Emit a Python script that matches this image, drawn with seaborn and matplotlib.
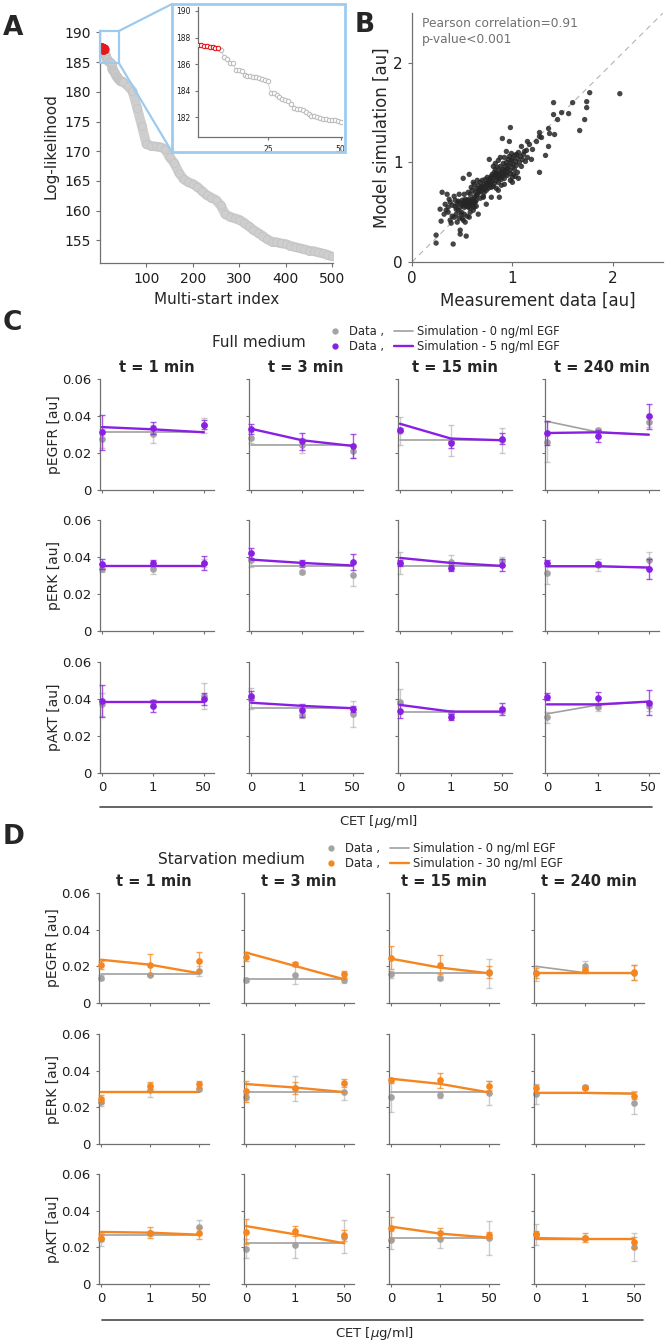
import matplotlib
matplotlib.use('Agg')
import matplotlib.pyplot as plt
import matplotlib.colors as mcolors
from matplotlib.lines import Line2D
from matplotlib.patches import Rectangle, ConnectionPatch
import numpy as np
import seaborn as sns

# ---------------- panel A: sorted multi-start log-likelihoods ----------------
a_best = [187.43, 187.41, 187.38, 187.36, 187.32, 187.28, 187.24, 187.20]
a_next = [187.05, 186.50, 186.35, 186.10, 186.08, 185.55, 185.55, 185.50, 185.20, 185.12,
          185.10, 185.05, 185.00, 184.97, 184.90, 184.80, 184.70, 183.80, 183.80, 183.70,
          183.50, 183.40, 183.30, 183.20, 183.00, 182.70, 182.60, 182.58, 182.50, 182.35,
          182.20, 182.10, 182.05, 181.98, 181.90, 181.85, 181.84, 181.80, 181.78, 181.75,
          181.70, 181.62]
# runs 60, 70, ..., 500
a_tail = [181.0, 180.1, 177.3, 174.3, 171.2, 170.9, 170.8, 170.7, 170.4, 169.0,
          168.0, 166.4, 165.3, 164.8, 164.5, 164.0, 163.3, 162.6, 162.2, 161.8,
          160.9, 159.4, 159.0, 158.7, 158.5, 158.0, 157.4, 156.8, 156.3, 155.8,
          155.2, 154.8, 154.7, 154.5, 154.4, 154.1, 153.9, 153.7, 153.5, 153.3,
          153.2, 153.0, 152.8, 152.6, 152.3]

# ---------------- panel B: measurement vs simulation ----------------
b_meas = [0.24, 0.24, 0.28, 0.29, 0.30, 0.35, 0.34, 0.38, 0.39, 0.41,
          0.43, 0.44, 0.46, 0.48, 0.48, 0.49, 0.51, 0.52, 0.54, 0.32,
          0.36, 0.40, 0.45, 0.50, 0.53, 0.57, 0.33, 0.37, 0.42, 0.47,
          0.51, 0.57, 0.59, 0.61, 0.62, 0.64, 0.66, 0.69, 0.71, 0.74,
          0.77, 0.79, 0.81, 0.84, 0.87, 0.90, 0.92, 0.94, 0.98, 0.97,
          1.00, 1.01, 1.04, 1.09, 1.12, 1.15, 1.17, 1.19, 1.20, 1.24,
          1.27, 1.27, 1.27, 1.29, 1.33, 1.36, 1.36, 1.37, 1.41, 1.41,
          1.42, 1.45, 1.49, 1.56, 1.60, 1.67, 1.72, 1.74, 1.74, 1.77,
          2.07,
          0.45, 0.47, 0.48, 0.50, 0.50, 0.51, 0.52, 0.52, 0.53, 0.53,
          0.54, 0.54, 0.55, 0.55, 0.56, 0.56, 0.57, 0.57, 0.58, 0.58,
          0.59, 0.60, 0.60, 0.61, 0.62, 0.62, 0.63, 0.64, 0.46, 0.49,
          0.43, 0.44, 0.40, 0.38, 0.36, 0.42, 0.47, 0.52, 0.55, 0.58,
          0.61,
          0.63, 0.64, 0.65, 0.66, 0.66, 0.67, 0.68, 0.68, 0.69, 0.70,
          0.70, 0.71, 0.72, 0.72, 0.73, 0.73, 0.74, 0.74, 0.75, 0.75,
          0.76, 0.76, 0.77, 0.77, 0.78, 0.78, 0.79, 0.79, 0.60, 0.62,
          0.65, 0.68, 0.71, 0.58, 0.56, 0.64,
          0.80, 0.80, 0.81, 0.82, 0.82, 0.83, 0.83, 0.84, 0.84, 0.85,
          0.85, 0.86, 0.86, 0.87, 0.87, 0.88, 0.88, 0.89, 0.89, 0.90,
          0.90, 0.91, 0.91, 0.92, 0.92, 0.93, 0.93, 0.94, 0.94, 0.95,
          0.95, 0.81, 0.84, 0.86, 0.89, 0.92, 0.83, 0.86, 0.88,
          0.96, 0.96, 0.97, 0.97, 0.98, 0.98, 0.99, 0.99, 1.00, 1.00,
          1.01, 1.02, 1.02, 1.03, 1.04, 1.05, 1.05, 1.06, 1.07, 1.08,
          1.09, 1.10, 1.11, 1.13, 1.14, 1.15, 1.03, 1.06, 0.98, 1.00]
b_sim = [0.27, 0.19, 0.53, 0.41, 0.70, 0.68, 0.52, 0.42, 0.39, 0.18,
         0.56, 0.48, 0.61, 0.32, 0.28, 0.48, 0.42, 0.68, 0.26, 0.48,
         0.50, 0.46, 0.40, 0.44, 0.40, 0.45, 0.58, 0.63, 0.66, 0.68,
         0.84, 0.88, 0.75, 0.80, 0.61, 0.56, 0.48, 0.75, 0.65, 0.58,
         1.03, 0.65, 0.96, 0.88, 0.65, 1.24, 1.05, 1.11, 1.35, 1.21,
         0.80, 0.88, 1.08, 1.16, 1.11, 1.21, 1.18, 1.03, 1.13, 1.21,
         1.30, 1.26, 0.90, 1.25, 1.07, 1.34, 1.16, 1.29, 1.60, 1.48,
         1.28, 1.43, 1.50, 1.49, 1.60, 1.32, 1.43, 1.61, 1.55, 1.70,
         1.69,
         0.58, 0.60, 0.55, 0.57, 0.62, 0.59, 0.55, 0.61, 0.58, 0.63,
         0.56, 0.60, 0.58, 0.62, 0.55, 0.60, 0.57, 0.63, 0.59, 0.54,
         0.61, 0.57, 0.63, 0.59, 0.55, 0.65, 0.60, 0.62, 0.52, 0.50,
         0.62, 0.53, 0.57, 0.60, 0.55, 0.45, 0.44, 0.48, 0.46, 0.50,
         0.52,
         0.70, 0.74, 0.68, 0.72, 0.77, 0.70, 0.74, 0.80, 0.71, 0.76,
         0.82, 0.73, 0.78, 0.70, 0.75, 0.83, 0.79, 0.72, 0.77, 0.85,
         0.80, 0.74, 0.82, 0.77, 0.84, 0.79, 0.86, 0.75, 0.72, 0.78,
         0.82, 0.64, 0.66, 0.68, 0.70, 0.66,
         0.81, 0.88, 0.84, 0.90, 0.79, 0.86, 0.93, 0.82, 0.89, 0.85,
         0.95, 0.88, 0.80, 0.91, 0.84, 0.87, 0.96, 0.90, 0.83, 0.93,
         0.86, 0.99, 0.89, 0.92, 0.84, 0.96, 0.88, 1.00, 0.91, 0.94,
         0.87, 0.76, 0.74, 0.72, 0.77, 0.78, 0.99, 1.02, 1.05,
         0.97, 1.03, 0.92, 1.06, 0.99, 0.89, 1.02, 1.09, 0.95, 1.04,
         0.98, 1.07, 0.93, 1.01, 0.97, 1.04, 0.90, 1.10, 1.00, 1.06,
         0.96, 1.03, 1.08, 1.01, 1.12, 1.05, 0.86, 0.84, 0.82, 0.85]

# ---------------- panels C / D: dose responses ----------------
readouts = ['pEGFR [au]', 'pERK [au]', 'pAKT [au]']
times = ['t = 1 min', 't = 3 min', 't = 15 min', 't = 240 min']
doses = ['0', '1', '50']

# [readout][time][dose]
full_mean0 = [[[0.0278, 0.0303, 0.0350], [0.0283, 0.0242, 0.0210], [0.0320, 0.0266, 0.0269], [0.0260, 0.0322, 0.0367]],
              [[0.0334, 0.0334, 0.0368], [0.0386, 0.0320, 0.0305], [0.0368, 0.0374, 0.0377], [0.0311, 0.0356, 0.0383]],
              [[0.0371, 0.0386, 0.0418], [0.0404, 0.0314, 0.0320], [0.0386, 0.0323, 0.0336], [0.0300, 0.0355, 0.0363]]]
full_err0 = [[[0.0050, 0.0049, 0.0040], [0.0030, 0.0040, 0.0036], [0.0075, 0.0083, 0.0067], [0.0110, 0.0013, 0.0027]],
             [[0.0013, 0.0025, 0.0020], [0.0040, 0.0010, 0.0061], [0.0058, 0.0036, 0.0024], [0.0058, 0.0032, 0.0042]],
             [[0.0063, 0.0010, 0.0070], [0.0058, 0.0016, 0.0071], [0.0069, 0.0015, 0.0013], [0.0031, 0.0022, 0.0027]]]
full_mean5 = [[[0.0312, 0.0335, 0.0353], [0.0331, 0.0263, 0.0238], [0.0326, 0.0254, 0.0278], [0.0308, 0.0292, 0.0398]],
              [[0.0361, 0.0368, 0.0368], [0.0422, 0.0365, 0.0374], [0.0368, 0.0341, 0.0356], [0.0368, 0.0361, 0.0334]],
              [[0.0389, 0.0363, 0.0400], [0.0418, 0.0338, 0.0346], [0.0336, 0.0302, 0.0346], [0.0413, 0.0404, 0.0380]]]
full_err5 = [[[0.0094, 0.0034, 0.0025], [0.0027, 0.0045, 0.0067], [0.0009, 0.0027, 0.0031], [0.0065, 0.0034, 0.0067]],
             [[0.0026, 0.0017, 0.0039], [0.0028, 0.0018, 0.0042], [0.0016, 0.0016, 0.0032], [0.0016, 0.0012, 0.0055]],
             [[0.0087, 0.0033, 0.0033], [0.0023, 0.0033, 0.0014], [0.0038, 0.0015, 0.0031], [0.0018, 0.0036, 0.0069]]]
full_sim0 = [[[0.0312, 0.0312, 0.0312], [0.0242, 0.0242, 0.0242], [0.0269, 0.0269, 0.0269], [0.0371, 0.0313, 0.0299]],
             [[0.0354, 0.0354, 0.0354], [0.0352, 0.0352, 0.0352], [0.0350, 0.0350, 0.0350], [0.0350, 0.0350, 0.0343]],
             [[0.0382, 0.0382, 0.0382], [0.0350, 0.0350, 0.0350], [0.0332, 0.0332, 0.0332], [0.0320, 0.0368, 0.0386]]]
full_sim5 = [[[0.0340, 0.0328, 0.0312], [0.0331, 0.0269, 0.0238], [0.0358, 0.0278, 0.0269], [0.0308, 0.0312, 0.0299]],
             [[0.0354, 0.0354, 0.0354], [0.0386, 0.0368, 0.0354], [0.0395, 0.0368, 0.0352], [0.0350, 0.0350, 0.0343]],
             [[0.0382, 0.0382, 0.0382], [0.0380, 0.0363, 0.0350], [0.0368, 0.0332, 0.0332], [0.0371, 0.0371, 0.0386]]]

starv_mean0 = [[[0.0138, 0.0155, 0.0175], [0.0125, 0.0151, 0.0125], [0.0156, 0.0136, 0.0162], [0.0162, 0.0202, 0.0165]],
               [[0.0231, 0.0295, 0.0301], [0.0257, 0.0303, 0.0281], [0.0259, 0.0266, 0.0277], [0.0273, 0.0312, 0.0226]],
               [[0.0244, 0.0276, 0.0311], [0.0193, 0.0211, 0.0258], [0.0240, 0.0244, 0.0253], [0.0271, 0.0249, 0.0202]]]
starv_err0 = [[[0.0014, 0.0010, 0.0027], [0.0011, 0.0050, 0.0015], [0.0018, 0.0011, 0.0078], [0.0041, 0.0027, 0.0040]],
              [[0.0023, 0.0039, 0.0011], [0.0018, 0.0067, 0.0043], [0.0085, 0.0015, 0.0066], [0.0055, 0.0009, 0.0061]],
              [[0.0034, 0.0014, 0.0038], [0.0053, 0.0068, 0.0091], [0.0047, 0.0045, 0.0093], [0.0057, 0.0011, 0.0078]]]
starv_mean30 = [[[0.0207, 0.0209, 0.0227], [0.0253, 0.0213, 0.0156], [0.0247, 0.0209, 0.0169], [0.0162, 0.0178, 0.0169]],
                [[0.0244, 0.0314, 0.0325], [0.0288, 0.0306, 0.0332], [0.0347, 0.0347, 0.0317], [0.0303, 0.0308, 0.0264]],
                [[0.0253, 0.0280, 0.0280], [0.0285, 0.0289, 0.0265], [0.0307, 0.0280, 0.0265], [0.0275, 0.0253, 0.0229]]]
starv_err30 = [[[0.0023, 0.0057, 0.0049], [0.0023, 0.0011, 0.0018], [0.0064, 0.0052, 0.0032], [0.0027, 0.0014, 0.0041]],
               [[0.0023, 0.0023, 0.0018], [0.0057, 0.0032, 0.0020], [0.0014, 0.0042, 0.0025], [0.0021, 0.0009, 0.0017]],
               [[0.0018, 0.0030, 0.0032], [0.0068, 0.0029, 0.0029], [0.0059, 0.0027, 0.0016], [0.0013, 0.0023, 0.0030]]]
starv_sim0 = [[[0.0160, 0.0160, 0.0160], [0.0129, 0.0129, 0.0129], [0.0162, 0.0162, 0.0162], [0.0200, 0.0165, 0.0162]],
              [[0.0283, 0.0283, 0.0283], [0.0281, 0.0281, 0.0281], [0.0281, 0.0281, 0.0281], [0.0277, 0.0277, 0.0275]],
              [[0.0269, 0.0269, 0.0269], [0.0222, 0.0222, 0.0222], [0.0253, 0.0253, 0.0253], [0.0253, 0.0247, 0.0244]]]
starv_sim30 = [[[0.0236, 0.0209, 0.0162], [0.0275, 0.0202, 0.0129], [0.0242, 0.0193, 0.0162], [0.0162, 0.0162, 0.0162]],
               [[0.0283, 0.0283, 0.0283], [0.0327, 0.0308, 0.0283], [0.0356, 0.0328, 0.0281], [0.0279, 0.0279, 0.0275]],
               [[0.0284, 0.0280, 0.0269], [0.0316, 0.0271, 0.0222], [0.0313, 0.0275, 0.0253], [0.0244, 0.0244, 0.0244]]]

GRAY_DOT = '#a3a3a3'
GRAY_LINE = '#a0a0a0'
PURPLE = '#8a1fe4'
ORANGE = '#f5861f'
BLUE = '#9dcbf0'
SPINE = '#707070'

sns.set_style('ticks')
plt.rcParams['font.family'] = ['DejaVu Sans']
plt.rcParams['mathtext.fontset'] = 'dejavusans'

W, H = 666, 1343
fig = plt.figure(figsize=(W / 100, H / 100), dpi=100)


def add_ax(left, top, width, height):
    # place an axes with pixel coordinates measured from the top-left corner
    return fig.add_axes([left / W, 1 - (top + height) / H, width / W, height / H])


def fig_text(x, y, s, **kw):
    fig.text(x / W, 1 - y / H, s, **kw)


def style_axis(ax, labelsize):
    sns.despine(ax=ax)
    for side in ['left', 'bottom']:
        ax.spines[side].set_color(SPINE)
        ax.spines[side].set_linewidth(0.9)
    ax.tick_params(color=SPINE, labelcolor='#1e1e1e', length=3, width=0.8, labelsize=labelsize)


# ---------------- A ----------------
n_in = len(a_best) + len(a_next)
a_idx = np.arange(1, n_in + 1)
a_vals = np.array(a_best + a_next)
tail_idx = np.arange(60, 60 + 10 * len(a_tail), 10)
all_idx = np.concatenate([a_idx, tail_idx])
all_vals = np.concatenate([a_vals, a_tail])

axA = add_ax(100, 30, 233, 233)
axA.plot(all_idx, all_vals, color='#cecece', lw=7, solid_capstyle='round', zorder=1)
sns.scatterplot(x=all_idx, y=all_vals, color='#cecece', edgecolor='#c4c4c4', linewidth=0.6,
                s=34, ax=axA, zorder=2)
sns.scatterplot(x=a_idx[:len(a_best)], y=a_best, color='#e3191c', edgecolor='#e3191c',
                s=46, ax=axA, zorder=3)
axA.set_xlim(0, 502)
axA.set_ylim(151.2, 190.4)
axA.set_xticks([100, 200, 300, 400, 500])
axA.set_yticks([155, 160, 165, 170, 175, 180, 185, 190])
style_axis(axA, 10)
axA.set_xlabel('Multi-start index', fontsize=11, labelpad=4)
axA.set_ylabel('Log-likelihood', fontsize=11, labelpad=4)
axA.add_patch(Rectangle((0, 184.8), 41, 5.45, fill=False, ec=BLUE, lw=1.6, clip_on=False, zorder=4))

axI = add_ax(198, 7, 144, 130)
axI.plot(a_idx, a_vals, color='#d2d2d2', lw=0.7, zorder=1)
sns.scatterplot(x=a_idx[len(a_best):], y=a_next, facecolor='white', edgecolor='#bdbdbd',
                linewidth=0.8, s=10, ax=axI, zorder=2)
sns.scatterplot(x=a_idx[:len(a_best)], y=a_best, facecolor='white', edgecolor='#e3191c',
                linewidth=0.8, s=10, ax=axI, zorder=3)
axI.set_xlim(1, 50.5)
axI.set_ylim(180.5, 190.3)
axI.set_xticks([25, 50])
axI.set_yticks([182, 184, 186, 188, 190])
style_axis(axI, 5.5)
axI.tick_params(length=2)
fig.add_artist(Rectangle((172 / W, 1 - 152 / H), 173 / W, 148 / H, transform=fig.transFigure,
                         fill=False, ec=BLUE, lw=2))
for yv, fy in [(190.25, 4), (184.8, 152)]:
    fig.add_artist(ConnectionPatch(xyA=(41, yv), coordsA=axA.transData,
                                   xyB=(172 / W, 1 - fy / H), coordsB='figure fraction',
                                   color=BLUE, lw=1.6))

# ---------------- B ----------------
axB = add_ax(412, 13, 251, 249)
lim = 2.5
axB.plot([0, lim], [0, lim], ls=(0, (5, 4)), color='#b4b4b4', lw=0.8, zorder=1)
sns.scatterplot(x=b_meas, y=b_sim, color='#262626', alpha=0.85, edgecolor='none', s=15,
                ax=axB, zorder=2)
axB.set_xlim(0, lim)
axB.set_ylim(0, lim)
axB.set_xticks([0, 1, 2])
axB.set_yticks([0, 1, 2])
style_axis(axB, 11)
axB.set_xlabel('Measurement data [au]', fontsize=12, labelpad=4)
axB.set_ylabel('Model simulation [au]', fontsize=12, labelpad=2)
axB.text(0.04, 0.985, 'Pearson correlation=0.91\np-value<0.001', transform=axB.transAxes,
         ha='left', va='top', fontsize=8.8, color='#707070', linespacing=1.3)

fig_text(3, 28, 'A', fontsize=19, fontweight='bold', va='center')
fig_text(355, 25, 'B', fontsize=19, fontweight='bold', va='center')

# ---------------- C / D ----------------
dose_pos = np.arange(len(doses))


def draw_medium(lefts, tops, width, height, mean0, err0, sim0, mean1, err1, sim1, color):
    for r, readout in enumerate(readouts):
        for c, tlabel in enumerate(times):
            ax = add_ax(lefts[c], tops[r], width, height)
            ax.errorbar(dose_pos, mean0[r][c], yerr=err0[r][c], fmt='o', ms=3.8, color=GRAY_DOT,
                        ecolor=mcolors.to_rgba(GRAY_DOT, 0.55), elinewidth=1, capsize=2.5,
                        capthick=1, zorder=2, clip_on=False)
            sns.lineplot(x=dose_pos, y=sim0[r][c], color=GRAY_LINE, lw=1.2, ax=ax, zorder=3)
            ax.errorbar(dose_pos, mean1[r][c], yerr=err1[r][c], fmt='o', ms=3.8, color=color,
                        ecolor=mcolors.to_rgba(color, 0.75), elinewidth=1, capsize=2.5,
                        capthick=1, zorder=4, clip_on=False)
            sns.lineplot(x=dose_pos, y=sim1[r][c], color=color, lw=1.7, ax=ax, zorder=5)
            ax.set_xlim(-0.04, 2.2)
            ax.set_ylim(0, 0.06)
            ax.set_xticks(dose_pos)
            ax.set_yticks([0, 0.02, 0.04, 0.06])
            style_axis(ax, 9.5)
            ax.tick_params(length=2.5)
            ax.set_xlabel('')
            ax.set_ylabel('')
            if r == len(readouts) - 1:
                ax.set_xticklabels(doses)
            else:
                ax.set_xticklabels([])
            if c == 0:
                ax.set_yticklabels(['0', '0.02', '0.04', '0.06'])
                ax.set_ylabel(readout, fontsize=10, labelpad=1)
            else:
                ax.set_yticklabels([])
            if r == 0:
                ax.set_title(tlabel, fontsize=10.5, fontweight='bold', pad=5)


def add_legend(x, y, color, egf):
    handles = [Line2D([], [], marker='o', ls='', color=GRAY_DOT, ms=3.5),
               Line2D([], [], marker='o', ls='', color=color, ms=3.5),
               Line2D([], [], color=GRAY_LINE, lw=1.2),
               Line2D([], [], color=color, lw=1.7)]
    labels = ['Data ,', 'Data ,', 'Simulation - 0 ng/ml EGF', 'Simulation - %s ng/ml EGF' % egf]
    fig.legend(handles, labels, ncol=2, loc='upper left', bbox_to_anchor=(x / W, 1 - y / H),
               frameon=False, fontsize=8.3, handlelength=1.6, handletextpad=0.4,
               columnspacing=0.9, labelspacing=0.2, borderpad=0, borderaxespad=0)


draw_medium([100, 249, 398, 545], [379, 520, 662], 114, 111,
            full_mean0, full_err0, full_sim0, full_mean5, full_err5, full_sim5, PURPLE)
draw_medium([99, 244, 389, 534], [893, 1034, 1174], 110, 110,
            starv_mean0, starv_err0, starv_sim0, starv_mean30, starv_err30, starv_sim30, ORANGE)

fig_text(3, 323, 'C', fontsize=19, fontweight='bold', va='center')
fig_text(259, 342, 'Full medium', fontsize=11, ha='center', va='center')
add_legend(326, 325, PURPLE, '5')
fig.add_artist(Line2D([100 / W, 652 / W], [1 - 807 / H, 1 - 807 / H], color='#4a4a4a', lw=1.2))
fig_text(339, 821, r'CET [$\mu$g/ml]', fontsize=9.5, ha='left', va='center')

fig_text(3, 837, 'D', fontsize=19, fontweight='bold', va='center')
fig_text(231, 860, 'Starvation medium', fontsize=11, ha='center', va='center')
add_legend(322, 842, ORANGE, '30')
fig.add_artist(Line2D([102 / W, 643 / W], [1 - 1320 / H, 1 - 1320 / H], color='#4a4a4a', lw=1.2))
fig_text(335, 1333, r'CET [$\mu$g/ml]', fontsize=9.5, ha='left', va='center')

fig.savefig('out.png', dpi=100)
